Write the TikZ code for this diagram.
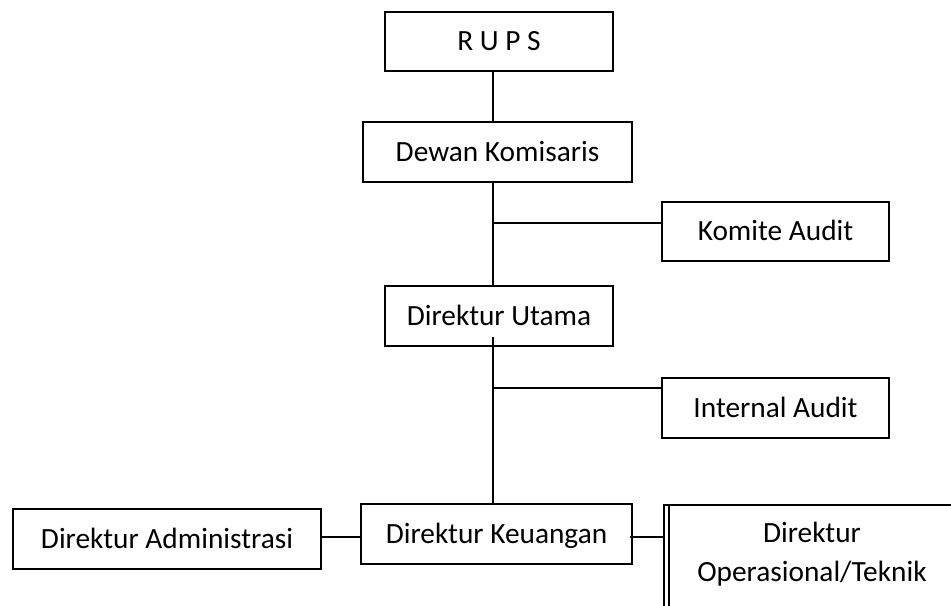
\documentclass[tikz,border=0pt]{standalone}
\usepackage{fontspec}
\setmainfont{Carlito}
\begin{document}
\begin{tikzpicture}[x=0.75pt,y=-0.75pt,
  orgbox/.style={draw, line width=1.15pt, rectangle, inner sep=0pt, align=center,
    text height=14.1pt, text depth=0pt,
    font=\fontsize{22pt}{29.25pt}\selectfont},
  link/.style={line width=1.15pt},
  boldlink/.style={line width=1.9pt}]
  \useasboundingbox (0,0) rectangle (951,606);
  \clip (0,0) rectangle (951,606);

  % boxes
  \node[orgbox, minimum width=171pt, minimum height=44.25pt] (rups) at (499,41.5) {R U P S};
  \node[orgbox, minimum width=201.75pt, minimum height=45pt] (dewan) at (497.5,152) {Dewan Komisaris};
  \node[orgbox, minimum width=170.25pt, minimum height=44.25pt] (komite) at (775.5,231.5) {Komite Audit};
  \node[orgbox, minimum width=171pt, minimum height=45pt] (dirut) at (499,316) {Direktur Utama};
  \node[orgbox, minimum width=170.25pt, minimum height=45pt] (internal) at (775.5,408) {Internal Audit};
  \node[orgbox, minimum width=203.25pt, minimum height=45pt] (keu) at (496.5,534) {Direktur Keuangan};
  \node[orgbox, minimum width=231pt, minimum height=45pt] (admin) at (167,539) {Direktur Administrasi};
  % two-line box, running past the lower and right edges
  \node[orgbox, text height=43.35pt, text depth=11.25pt, anchor=north,
        minimum width=222pt, minimum height=82.5pt] (ops) at (812,504) {Direktur\\Operasional/Teknik};
  % second rule on the left edge of the operations box
  \draw[link] ([xshift=4.5pt]ops.north west) -- ([xshift=4.5pt]ops.south west);

  % helper coordinates for the spine and branch heights
  \coordinate (spine) at (493,0);
  \coordinate (kaJoin) at (493,223);
  \coordinate (iaJoin) at (493,388);
  \coordinate (lowRow) at (0,537);

  % vertical spine
  \draw[link] (rups.south -| spine) -- (dewan.north -| spine);
  \draw[link] (dewan.south -| spine) -- (dirut.north -| spine);
  \draw[link] ([yshift=7.5pt]dirut.south -| spine) -- (keu.north -| spine);

  % side branches
  \draw[link] (kaJoin) -- (kaJoin -| komite.west);
  \draw[link] (iaJoin) -- (iaJoin -| internal.west);

  % bottom row links
  \draw[boldlink] (admin.east |- lowRow) -- (keu.west |- lowRow);
  \draw[boldlink] ([xshift=-2.25pt]keu.east |- lowRow) -- (ops.west |- lowRow);
\end{tikzpicture}
\end{document}
